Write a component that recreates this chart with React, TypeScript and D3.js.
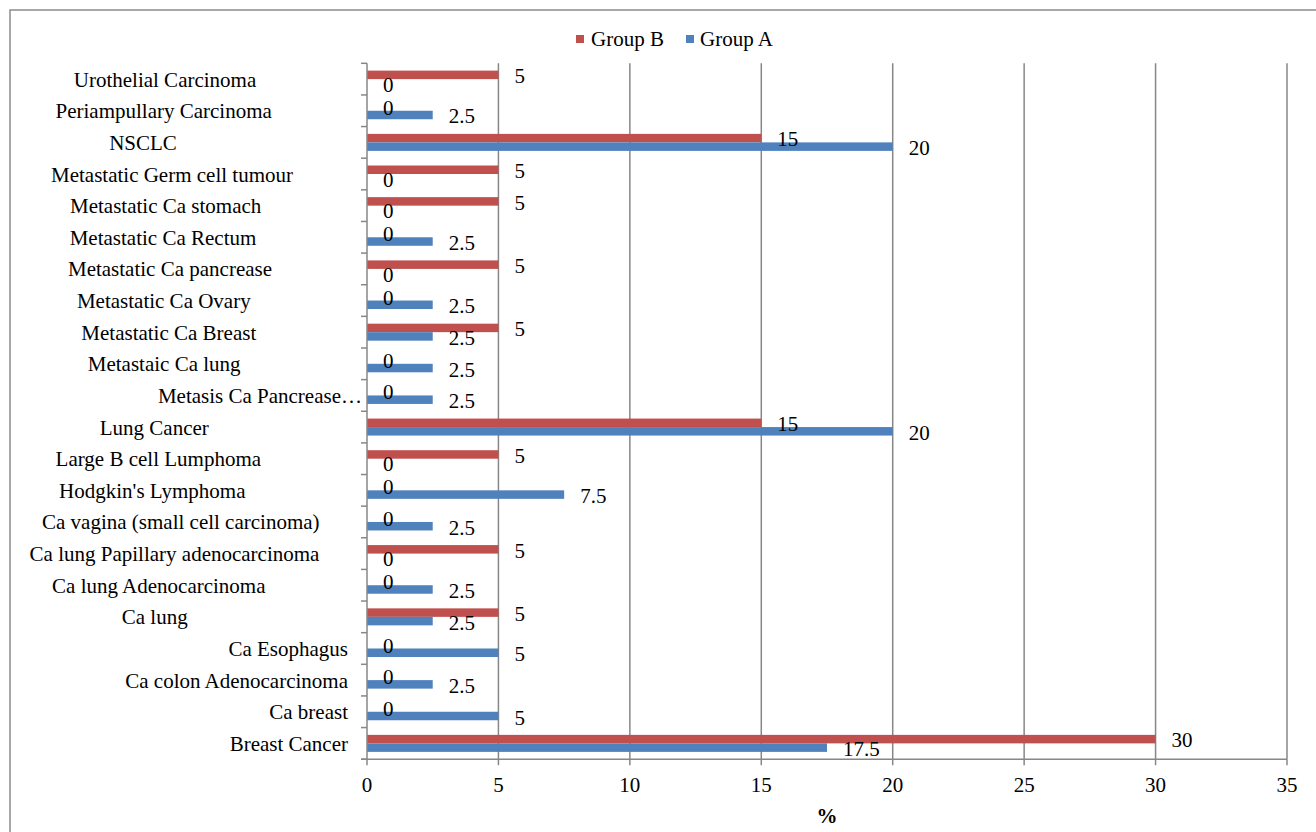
import React from "react";
import * as d3 from "d3";

// Categories listed from top to bottom as shown in the chart
const categories = [
  "Urothelial Carcinoma",
  "Periampullary Carcinoma",
  "NSCLC",
  "Metastatic Germ cell tumour",
  "Metastatic Ca stomach",
  "Metastatic Ca Rectum",
  "Metastatic Ca pancrease",
  "Metastatic Ca Ovary",
  "Metastatic Ca Breast",
  "Metastaic Ca lung",
  "Metasis Ca Pancrease…",
  "Lung Cancer",
  "Large B cell Lumphoma",
  "Hodgkin's Lymphoma",
  "Ca vagina (small cell carcinoma)",
  "Ca lung Papillary adenocarcinoma",
  "Ca lung Adenocarcinoma",
  "Ca lung",
  "Ca Esophagus",
  "Ca colon Adenocarcinoma",
  "Ca breast",
  "Breast Cancer",
];

const groupB = [5, 0, 15, 5, 5, 0, 5, 0, 5, 0, 0, 15, 5, 0, 0, 5, 0, 5, 0, 0, 0, 30];
const groupA = [0, 2.5, 20, 0, 0, 2.5, 0, 2.5, 2.5, 2.5, 2.5, 20, 0, 7.5, 2.5, 0, 2.5, 2.5, 5, 2.5, 5, 17.5];

const seriesNames = ["Group B", "Group A"];
const xTicks = [0, 5, 10, 15, 20, 25, 30, 35];
const xTitle = "%";

// Layout (not data): how each category label is placed (center x, or "end" anchored x)
const labelLayout: { anchor: "middle" | "end"; x: number }[] = [
  { anchor: "middle", x: 165 },
  { anchor: "middle", x: 163.7 },
  { anchor: "middle", x: 143 },
  { anchor: "middle", x: 172 },
  { anchor: "middle", x: 165.7 },
  { anchor: "middle", x: 163 },
  { anchor: "middle", x: 170 },
  { anchor: "middle", x: 163.8 },
  { anchor: "middle", x: 168.8 },
  { anchor: "middle", x: 164.2 },
  { anchor: "end", x: 362 },
  { anchor: "middle", x: 154.3 },
  { anchor: "middle", x: 158.3 },
  { anchor: "middle", x: 152.3 },
  { anchor: "middle", x: 180.8 },
  { anchor: "middle", x: 174.5 },
  { anchor: "middle", x: 158.8 },
  { anchor: "middle", x: 154.7 },
  { anchor: "end", x: 348 },
  { anchor: "end", x: 348 },
  { anchor: "end", x: 348 },
  { anchor: "end", x: 348 },
];

const COLORS: Record<string, string> = { "Group B": "#C0504D", "Group A": "#4F81BD" };
const FONT = "'Liberation Serif', 'Times New Roman', serif";
const FS = 21;
const GRID = "#878787";

export default function App() {
  const W = 1316;
  const H = 832;
  const left = 367;
  const right = 1287;
  const top = 63.3;
  const bottom = 759.2;

  const x = d3.scaleLinear().domain([0, 35]).range([left, right]);
  const y = d3.scaleBand<string>().domain(categories).range([top, bottom]).paddingInner(0).paddingOuter(0);
  const barH = 8.5;

  const rows = categories.map((c, i) => ({ c, i, B: groupB[i], A: groupA[i] }));
  const sub = d3.scaleBand<string>().domain(seriesNames).range([-barH, barH]);

  const boundaries = d3.range(categories.length + 1).map((k) => top + k * y.step());

  return (
    <svg
      width={W}
      height={H}
      style={{ position: "absolute", left: 0, top: 0, background: "#fff" }}
      fontFamily={FONT}
    >
      <rect x={0} y={0} width={W} height={H} fill="#fff" />
      {/* chart frame */}
      <rect x={10} y={10} width={W + 20} height={H + 20} fill="none" stroke="#8c8c8c" strokeWidth={1.5} />

      {/* legend */}
      <g>
        <rect x={576} y={35} width={8} height={8} fill={COLORS["Group B"]} />
        <text x={591} y={46} fontSize={FS} fill="#000">Group B</text>
        <rect x={686} y={35} width={8} height={8} fill={COLORS["Group A"]} />
        <text x={700} y={46} fontSize={FS} fill="#000">Group A</text>
      </g>

      {/* gridlines */}
      {xTicks.filter((t) => t > 0).map((t) => (
        <line key={"g" + t} x1={x(t)} x2={x(t)} y1={top} y2={bottom} stroke={GRID} strokeWidth={1.5} />
      ))}

      {/* bars */}
      {rows.map((r) => {
        const c = (y(r.c) as number) + y.bandwidth() / 2;
        return (
          <g key={r.c}>
            <rect x={x(0)} y={c + (sub("Group B") as number)} width={x(r.B) - x(0)} height={sub.bandwidth()} fill={COLORS["Group B"]} />
            <rect x={x(0)} y={c + (sub("Group A") as number)} width={x(r.A) - x(0)} height={sub.bandwidth()} fill={COLORS["Group A"]} />
          </g>
        );
      })}

      {/* axes */}
      <line x1={left} x2={left} y1={top} y2={bottom} stroke={GRID} strokeWidth={1.5} />
      <line x1={left - 6} x2={right} y1={bottom} y2={bottom} stroke={GRID} strokeWidth={1.5} />
      {boundaries.map((b, k) => (
        <line key={"yt" + k} x1={left - 6} x2={left} y1={b} y2={b} stroke={GRID} strokeWidth={1.5} />
      ))}
      {xTicks.map((t) => (
        <g key={"xt" + t}>
          <line x1={x(t)} x2={x(t)} y1={bottom} y2={bottom + 6} stroke={GRID} strokeWidth={1.5} />
          <text x={x(t)} y={792} fontSize={FS} textAnchor="middle" fill="#000">{t}</text>
        </g>
      ))}
      <text x={827} y={823} fontSize={FS} fontWeight="bold" textAnchor="middle" fill="#000">{xTitle}</text>

      {/* category labels */}
      {rows.map((r) => {
        const c = (y(r.c) as number) + y.bandwidth() / 2;
        const lay = labelLayout[r.i];
        return (
          <text key={"l" + r.c} x={lay.x} y={c + 7.5} fontSize={FS} textAnchor={lay.anchor} fill="#000">
            {r.c}
          </text>
        );
      })}

      {/* value labels */}
      {rows.map((r) => {
        const c = (y(r.c) as number) + y.bandwidth() / 2;
        const cb = c + (sub("Group B") as number) + sub.bandwidth() / 2;
        const ca = c + (sub("Group A") as number) + sub.bandwidth() / 2;
        return (
          <g key={"v" + r.c}>
            <text x={x(r.B) + 16} y={cb + 8.3} fontSize={FS} fill="#000">{r.B}</text>
            <text x={x(r.A) + 16} y={ca + 8.5} fontSize={FS} fill="#000">{r.A}</text>
          </g>
        );
      })}
    </svg>
  );
}
